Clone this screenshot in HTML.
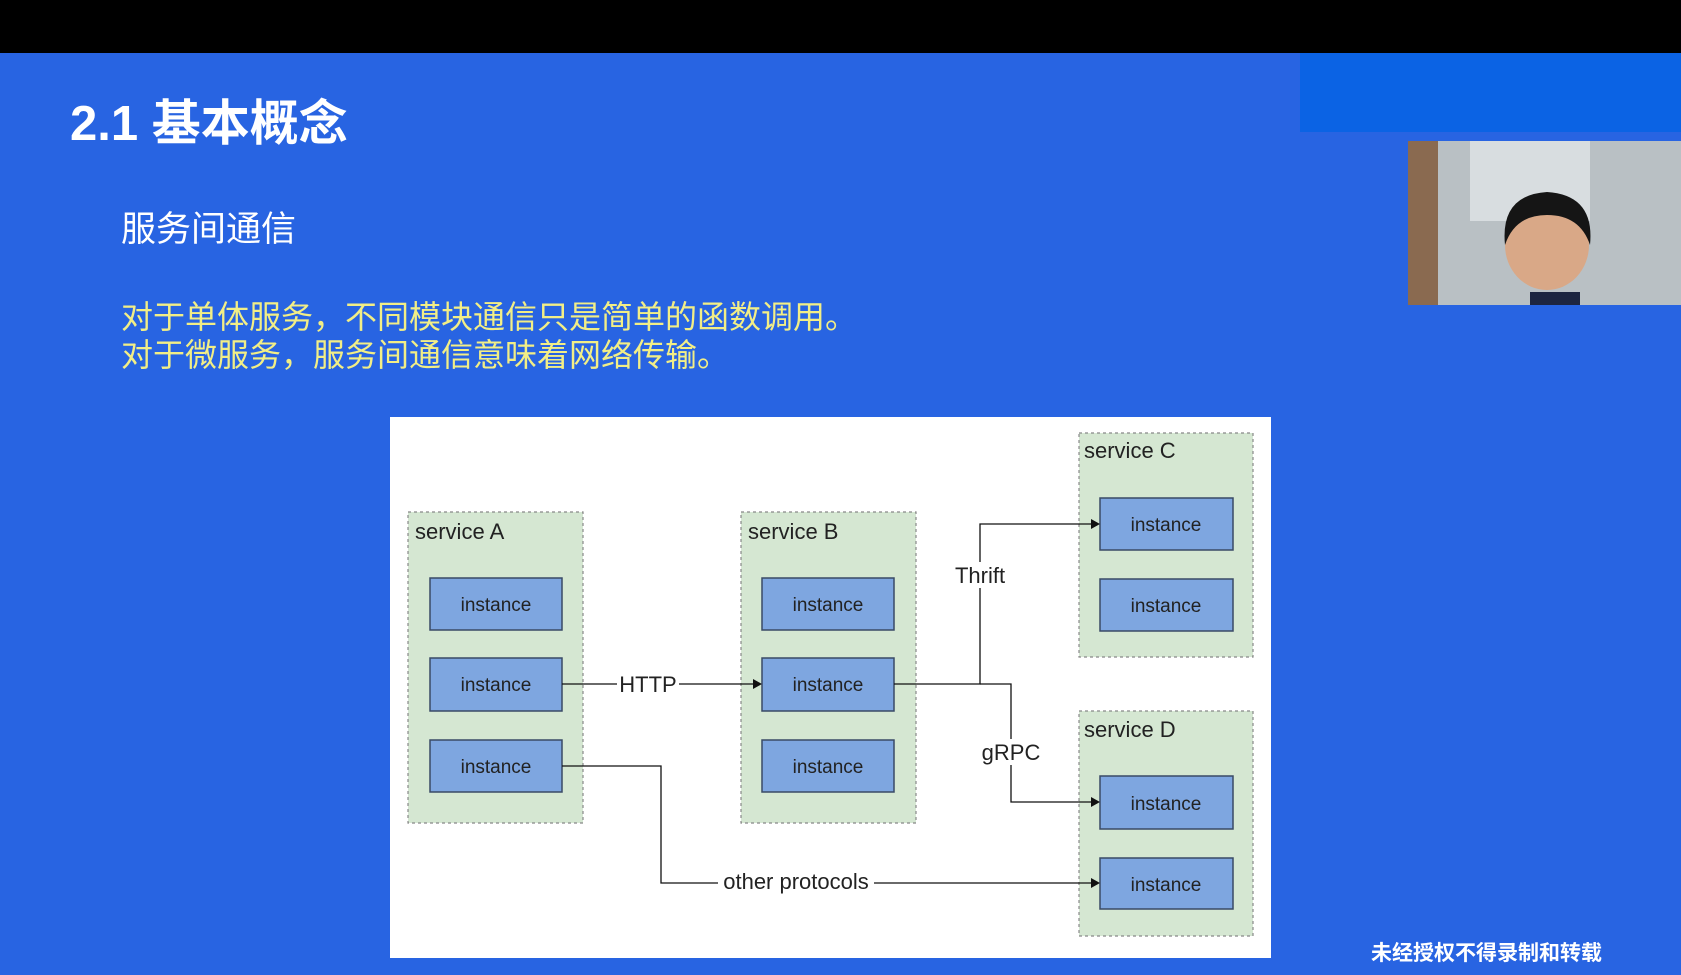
<!DOCTYPE html>
<html><head><meta charset="utf-8"><style>
html,body{margin:0;padding:0;width:1681px;height:975px;overflow:hidden;background:#2864e2;}
</style></head><body>
<svg width="1681" height="975" viewBox="0 0 1681 975" xmlns="http://www.w3.org/2000/svg" style="position:absolute;left:0;top:0">
<rect x="0" y="0" width="1681" height="975" fill="#2864e2"/>
<rect x="0" y="0" width="1681" height="53" fill="#000"/>
<rect x="1300" y="53" width="381" height="79" fill="#0b63e4"/>
<rect x="1408" y="141" width="273" height="164" fill="#b9c0c4"/>
<rect x="1408" y="141" width="30" height="164" fill="#8a6a50"/>
<rect x="1470" y="141" width="120" height="80" fill="#d8dde0"/>
<ellipse cx="1547" cy="245" rx="42" ry="45" fill="#d9a887"/>
<path d="M1505 245 Q1500 195 1547 192 Q1595 195 1590 245 Q1580 215 1547 215 Q1515 215 1505 245Z" fill="#151515"/>
<rect x="1530" y="292" width="50" height="13" fill="#1d2540"/>
<g font-family="Liberation Sans, 'Noto Sans CJK SC', sans-serif">
<text x="70" y="140" font-size="49" font-weight="bold" fill="#fff">2.1 基本概念</text>
<text x="121" y="241" font-size="35" fill="#fff">服务间通信</text>
<text x="121" y="328" font-size="32" fill="#f2ee86">对于单体服务，不同模块通信只是简单的函数调用。</text>
<text x="121" y="366" font-size="32" fill="#f2ee86">对于微服务，服务间通信意味着网络传输。</text>
<text x="1371" y="960" font-size="21" font-weight="bold" fill="#fff">未经授权不得录制和转载</text>
</g>
<rect x="390" y="417" width="881" height="541" fill="#fff"/>
<g fill="#d5e7d2" stroke="#888" stroke-width="1.2" stroke-dasharray="3,3">
<rect x="408" y="512" width="175" height="311"/>
<rect x="741" y="512" width="175" height="311"/>
<rect x="1079" y="433" width="174" height="224"/>
<rect x="1079" y="711" width="174" height="225"/>
</g>
<g fill="#7ea6e0" stroke="#3a4a66" stroke-width="1.5">
<rect x="430" y="578" width="132" height="52"/>
<rect x="430" y="658" width="132" height="53"/>
<rect x="430" y="740" width="132" height="52"/>
<rect x="762" y="578" width="132" height="52"/>
<rect x="762" y="658" width="132" height="53"/>
<rect x="762" y="740" width="132" height="52"/>
<rect x="1100" y="498" width="133" height="52"/>
<rect x="1100" y="579" width="133" height="52"/>
<rect x="1100" y="776" width="133" height="53"/>
<rect x="1100" y="858" width="133" height="51"/>
</g>
<g font-family="Liberation Sans, sans-serif" font-size="19" fill="#222" text-anchor="middle">
<text x="496" y="611">instance</text><text x="496" y="691">instance</text><text x="496" y="773">instance</text>
<text x="828" y="611">instance</text><text x="828" y="691">instance</text><text x="828" y="773">instance</text>
<text x="1166" y="531">instance</text><text x="1166" y="612">instance</text>
<text x="1166" y="810">instance</text><text x="1166" y="891">instance</text>
</g>
<g font-family="Liberation Sans, sans-serif" font-size="22" fill="#222">
<text x="415" y="539">service A</text>
<text x="748" y="539">service B</text>
<text x="1084" y="458">service C</text>
<text x="1084" y="737">service D</text>
</g>
<g fill="none" stroke="#111" stroke-width="1.3">
<path d="M562 684 H756"/>
<path d="M894 684 H980 V524 H1094"/>
<path d="M980 684 H1011 V802 H1094"/>
<path d="M562 766 H661 V883 H1094"/>
</g>
<g fill="#111">
<path d="M762 684 l-9 -5 v10z"/>
<path d="M1100 524 l-9 -5 v10z"/>
<path d="M1100 802 l-9 -5 v10z"/>
<path d="M1100 883 l-9 -5 v10z"/>
</g>
<g font-family="Liberation Sans, sans-serif" font-size="22" fill="#222" text-anchor="middle">
<rect x="617" y="670" width="62" height="26" fill="#fff"/>
<text x="648" y="692">HTTP</text>
<rect x="950" y="562" width="60" height="26" fill="#fff"/>
<text x="980" y="583">Thrift</text>
<rect x="978" y="739" width="66" height="26" fill="#fff"/>
<text x="1011" y="760">gRPC</text>
<rect x="718" y="870" width="156" height="26" fill="#fff"/>
<text x="796" y="889">other protocols</text>
</g>
</svg>
</body></html>
